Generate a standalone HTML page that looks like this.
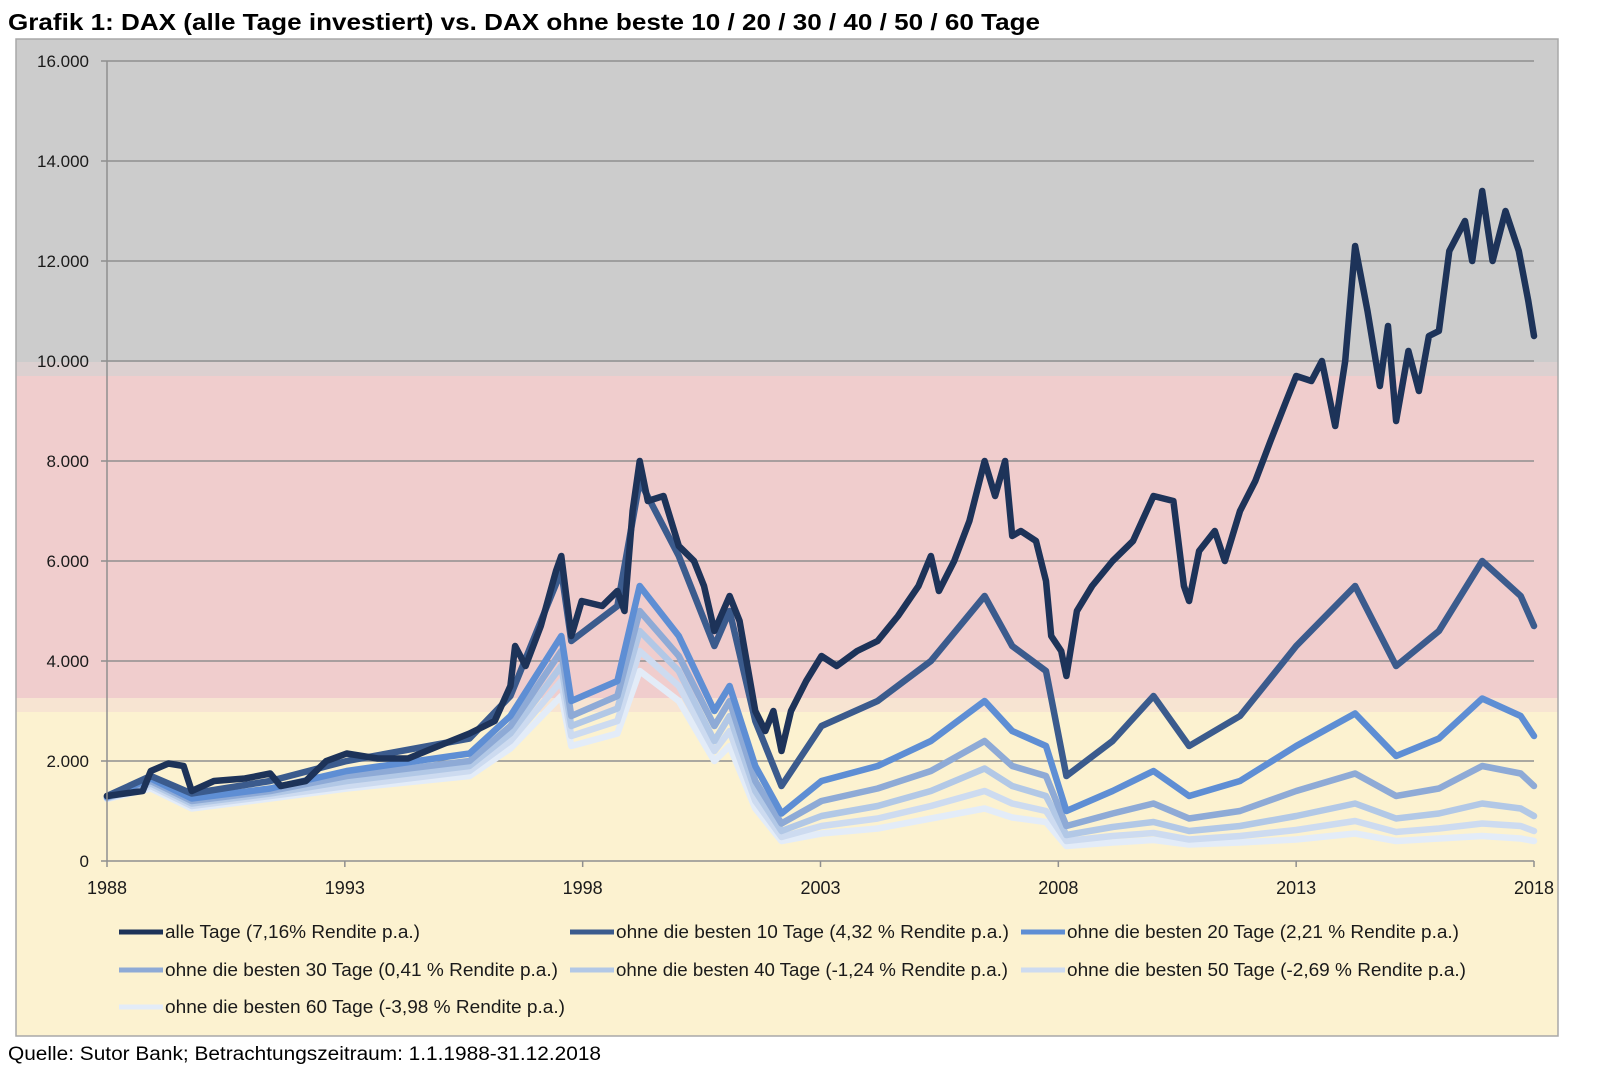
<!DOCTYPE html>
<html><head><meta charset="utf-8">
<style>
html,body{margin:0;padding:0;background:#fff;}
svg{display:block;font-family:"Liberation Sans",Arial,sans-serif;}
</style></head>
<body>
<svg id="chart" width="1600" height="1081" viewBox="0 0 1600 1081" xmlns="http://www.w3.org/2000/svg">
<text x="8" y="30" font-size="23" font-weight="bold" textLength="1032" lengthAdjust="spacingAndGlyphs">Grafik 1: DAX (alle Tage investiert) vs. DAX ohne beste 10 / 20 / 30 / 40 / 50 / 60 Tage</text>
<g>
<rect x="16" y="39" width="1542" height="997" fill="#fcf2d0"/>
<rect x="16" y="39" width="1542" height="323" fill="#cccccc"/>
<rect x="16" y="362" width="1542" height="14" fill="#dcd0d0"/>
<rect x="16" y="376" width="1542" height="322" fill="#f0cdcd"/>
<rect x="16" y="698" width="1542" height="14" fill="#f7e4d2"/>
<rect x="16" y="39" width="1542" height="997" fill="none" stroke="#a8a8a8" stroke-width="1.5"/>
</g>
<g id="grid"></g>
<g id="series"></g>
<g id="axes"></g>
<g id="legend"></g>
<text x="8" y="1060" font-size="19" textLength="593" lengthAdjust="spacingAndGlyphs">Quelle: Sutor Bank; Betrachtungszeitraum: 1.1.1988-31.12.2018</text>
</svg>
<script>
const yTicks = [0,2000,4000,6000,8000,10000,12000,14000,16000];
const yTickLabels = ["0","2.000","4.000","6.000","8.000","10.000","12.000","14.000","16.000"];
const xTicks = [1988,1993,1998,2003,2008,2013,2018];
const xTickLabels = ["1988","1993","1998","2003","2008","2013","2018"];

const datesMain = [1988.00,1988.75,1988.92,1989.29,1989.61,1989.78,1990.25,1990.90,1991.43,1991.65,1992.18,1992.61,1993.04,1993.69,1994.33,1994.97,1995.62,1996.15,1996.48,1996.58,1996.80,1997.12,1997.44,1997.55,1997.76,1997.98,1998.41,1998.73,1998.88,1999.05,1999.20,1999.37,1999.70,2000.02,2000.34,2000.55,2000.77,2001.09,2001.30,2001.63,2001.84,2002.01,2002.18,2002.38,2002.70,2003.02,2003.34,2003.77,2004.20,2004.63,2005.06,2005.32,2005.49,2005.81,2006.13,2006.45,2006.67,2006.88,2007.03,2007.21,2007.53,2007.74,2007.85,2008.06,2008.17,2008.39,2008.71,2009.14,2009.57,2010.00,2010.42,2010.64,2010.75,2010.96,2011.29,2011.50,2011.82,2012.14,2012.46,2012.79,2013.00,2013.32,2013.54,2013.82,2014.03,2014.24,2014.50,2014.76,2014.93,2015.10,2015.36,2015.58,2015.79,2016.00,2016.22,2016.55,2016.70,2016.91,2017.13,2017.40,2017.68,2017.88,2018.00];
const alleTage = [1300,1400,1800,1950,1900,1400,1600,1650,1750,1500,1600,2000,2150,2050,2050,2300,2550,2800,3500,4300,3900,4700,5800,6100,4500,5200,5100,5400,5000,7000,8000,7200,7300,6300,6000,5500,4600,5300,4800,3000,2600,3000,2200,3000,3600,4100,3900,4200,4400,4900,5500,6100,5400,6000,6800,8000,7300,8000,6500,6600,6400,5600,4500,4200,3700,5000,5500,6000,6400,7300,7200,5500,5200,6200,6600,6000,7000,7600,8400,9200,9700,9600,10000,8700,10000,12300,11000,9500,10700,8800,10200,9400,10500,10600,12200,12800,12000,13400,12000,13000,12200,11200,10500];

const datesSub = [1988.00,1988.92,1989.78,1991.43,1993.04,1995.62,1996.48,1997.55,1997.76,1998.73,1999.20,2000.02,2000.77,2001.09,2001.63,2002.18,2003.02,2004.20,2005.32,2006.45,2007.03,2007.74,2008.17,2009.14,2010.00,2010.75,2011.82,2013.00,2014.24,2015.10,2016.00,2016.91,2017.72,2018.00];
const ohne10 = [1300,1700,1350,1600,2000,2450,3300,5800,4400,5100,7600,6100,4300,5000,2800,1500,2700,3200,4000,5300,4300,3800,1700,2400,3300,2300,2900,4300,5500,3900,4600,6000,5300,4700];
const ohne20 = [1280,1650,1250,1450,1800,2150,2900,4500,3200,3600,5500,4500,3000,3500,1900,950,1600,1900,2400,3200,2600,2300,1000,1400,1800,1300,1600,2300,2950,2100,2450,3250,2900,2500];
const ohne30 = [1270,1600,1200,1400,1700,2000,2700,4200,2900,3300,5000,4100,2700,3200,1600,750,1200,1450,1800,2400,1900,1700,700,950,1150,850,1000,1400,1750,1300,1450,1900,1750,1500];
const ohne40 = [1260,1550,1150,1350,1600,1900,2550,3900,2700,3050,4600,3800,2400,2900,1400,600,900,1100,1400,1850,1500,1300,520,680,780,600,700,900,1150,850,950,1150,1050,900];
const ohne50 = [1250,1500,1100,1300,1500,1800,2400,3600,2500,2800,4200,3500,2200,2600,1200,480,700,850,1100,1400,1150,1000,400,500,560,430,500,620,800,580,650,750,700,600];
const ohne60 = [1240,1450,1050,1250,1450,1700,2250,3300,2300,2550,3800,3200,2000,2300,1050,400,550,650,850,1050,870,780,300,370,420,330,370,430,550,400,450,500,450,400];

const legendLabels = ["alle Tage (7,16% Rendite p.a.)","ohne die besten 10 Tage (4,32 % Rendite p.a.)","ohne die besten 20 Tage (2,21 % Rendite p.a.)","ohne die besten 30 Tage (0,41 % Rendite p.a.)","ohne die besten 40 Tage (-1,24 % Rendite p.a.)","ohne die besten 50 Tage (-2,69 % Rendite p.a.)","ohne die besten 60 Tage (-3,98 % Rendite p.a.)"];

const NS="http://www.w3.org/2000/svg";
const X0=107,X1=1534,Y0=861,Y1=61;
function sx(v){return X0+(v-1988)/(2018-1988)*(X1-X0);}
function sy(v){return Y0-(v/16000)*(Y0-Y1);}
function mk(tag,parent,attrs){const e=document.createElementNS(NS,tag);for(const k in attrs)e.setAttribute(k,attrs[k]);parent.appendChild(e);return e;}

const grid=document.getElementById('grid');
const axes=document.getElementById('axes');
yTicks.forEach((t,i)=>{
  if(t>0){const g=mk('line',grid,{x1:X0,x2:X1,y1:sy(t),y2:sy(t),stroke:'#8f8f8f','stroke-width':1.5});
  
  }
  const tk=mk('line',axes,{x1:X0-6,x2:X0,y1:sy(t),y2:sy(t),stroke:'#8f8f8f','stroke-width':1.5});
  
  
  const lb=mk('text',axes,{x:89,y:sy(t)+6,'text-anchor':'end','font-size':17,fill:'#1a1a1a'});
  lb.textContent=yTickLabels[i];
  
  
});
const ya=mk('line',axes,{x1:X0,x2:X0,y1:Y1,y2:Y0,stroke:'#8f8f8f','stroke-width':1.5});


const xa=mk('line',axes,{x1:X0,x2:X1,y1:Y0,y2:Y0,stroke:'#8f8f8f','stroke-width':1.5});


xTicks.forEach((t,i)=>{
  const tk=mk('line',axes,{x1:sx(t),x2:sx(t),y1:Y0,y2:Y0+6,stroke:'#8f8f8f','stroke-width':1.5});
  
  
  const lb=mk('text',axes,{x:sx(t),y:Y0+33,'text-anchor':'middle','font-size':18,fill:'#1a1a1a'});
  lb.textContent=xTickLabels[i];
  
  
});

const colors=['#1d3359','#3b5b8d','#5e8ed4','#8eaad6','#b2c8e6','#cddbf0','#e3ecf8'];
const seriesList=[[datesMain,alleTage],[datesSub,ohne10],[datesSub,ohne20],[datesSub,ohne30],[datesSub,ohne40],[datesSub,ohne50],[datesSub,ohne60]];
const seriesNames=['line-alle-tage','line-ohne-10','line-ohne-20','line-ohne-30','line-ohne-40','line-ohne-50','line-ohne-60'];
const sg=document.getElementById('series');
for(let s=6;s>=0;s--){
  const [d,v]=seriesList[s];
  const pts=d.map((x,i)=>sx(x).toFixed(1)+','+sy(v[i]).toFixed(1)).join(' ');
  const pl=mk('polyline',sg,{points:pts,fill:'none',stroke:colors[s],'stroke-width':6.5,'stroke-linejoin':'round','stroke-linecap':'round'});
  
  
}

const lg=document.getElementById('legend');
const colX=[[119,165],[570,616],[1021,1067]];
const rowY=[932,970,1007];
const textW=[255,393,392,393,392,399,400];
legendLabels.forEach((lab,i)=>{
  const r=Math.floor(i/3),c=i%3;
  const sw=mk('line',lg,{x1:colX[c][0],x2:colX[c][0]+44,y1:rowY[r],y2:rowY[r],stroke:colors[i],'stroke-width':5});
  
  
  const t=mk('text',lg,{x:colX[c][1],y:rowY[r]+6,'font-size':18,fill:'#1a1a1a',textLength:textW[i],lengthAdjust:'spacingAndGlyphs'});
  t.textContent=lab;
  
  
});
</script>
</body></html>
